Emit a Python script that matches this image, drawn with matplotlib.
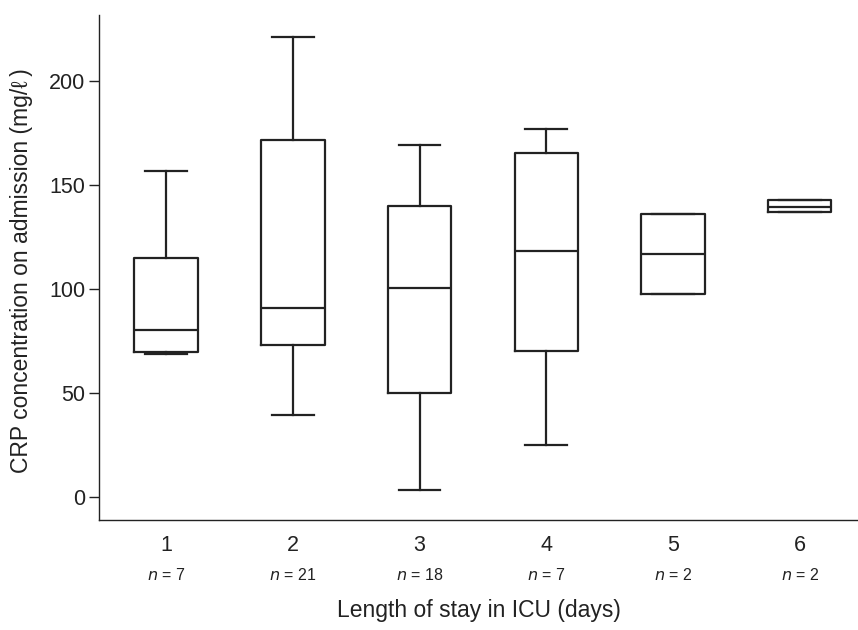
import matplotlib
matplotlib.use("Agg")
import matplotlib.pyplot as plt
import matplotlib.transforms as mtransforms

plt.rcParams['font.family'] = ['Liberation Sans', 'DejaVu Sans']

# Box plot summaries
days = [1, 2, 3, 4, 5, 6]
n_counts = [7, 21, 18, 7, 2, 2]
whislo = [68.8, 39.4, 3.4, 25.0, 97.6, 136.8]
q1 = [69.7, 73.1, 50.0, 70.2, 97.6, 137.0]
med = [80.3, 90.9, 100.5, 118.3, 116.8, 139.6]
q3 = [114.9, 171.6, 139.9, 165.4, 136.0, 142.6]
whishi = [156.7, 221.0, 169.2, 176.9, 136.0, 142.6]

stats = []
for i in range(len(days)):
    stats.append(dict(whislo=whislo[i], q1=q1[i], med=med[i], q3=q3[i],
                      whishi=whishi[i], fliers=[], label=str(days[i])))

fig = plt.figure(figsize=(8.58, 6.3), dpi=100)
ax = fig.add_axes([99 / 858, 1 - 520 / 630, 1 - 99 / 858, (520 - 15) / 630])

col = '#222222'
lw = 1.6
ax.bxp(stats, positions=days, widths=0.5, capwidths=0.33, showfliers=False,
       boxprops=dict(color=col, linewidth=lw),
       medianprops=dict(color=col, linewidth=lw),
       whiskerprops=dict(color=col, linewidth=lw),
       capprops=dict(color=col, linewidth=lw))

ax.set_xlim(0.47, 6.46)
ax.set_ylim(-11, 231.7)
ax.set_yticks([0, 50, 100, 150, 200])
ax.tick_params(axis='y', direction='out', length=7.5, width=1, labelsize=15.5,
               colors='#222222', pad=2.5)
ax.tick_params(axis='x', length=0, labelsize=15.5, pad=11, colors='#222222')
ax.set_xticks(days)
ax.set_xticklabels([str(d) for d in days])

for s in ['top', 'right']:
    ax.spines[s].set_visible(False)
for s in ['left', 'bottom']:
    ax.spines[s].set_color('#222222')
    ax.spines[s].set_linewidth(1.0)

trans = mtransforms.blended_transform_factory(ax.transData, fig.transFigure)
for d, n in zip(days, n_counts):
    ax.text(d, 1 - 575 / 630, r'$\it{n}$' + ' = %d' % n, transform=trans,
            ha='center', va='center', fontsize=11.5, color='#222222')

fig.text((99 + 858) / 2 / 858, 1 - 611 / 630, 'Length of stay in ICU (days)',
         ha='center', va='center', fontsize=16.5, color='#222222')
fig.text(22 / 858, 1 - 271 / 630, 'CRP concentration on admission (mg/\u2113\u2009)',
         ha='center', va='center', rotation=90, fontsize=16.5, color='#222222')

fig.savefig('out.png', dpi=100)
